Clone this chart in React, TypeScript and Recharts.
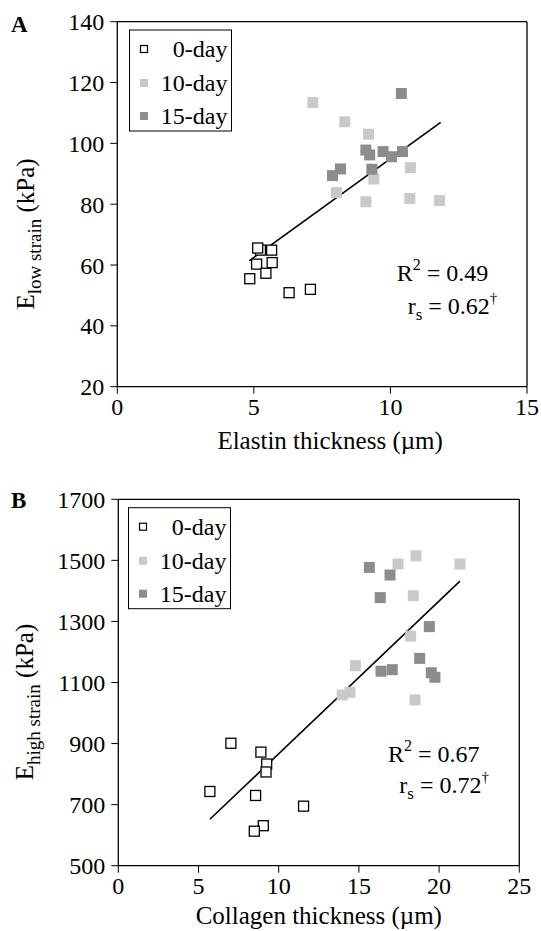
import React from 'react';
import { ScatterChart, Scatter, XAxis, YAxis, ReferenceLine } from 'recharts';

// ---------- Panel A data (Elastin thickness vs E low strain) ----------
const a0Day = [
  { x: 5.24, y: 64.9 }, { x: 5.14, y: 65.6 }, { x: 5.65, y: 64.9 }, { x: 5.10, y: 60.3 },
  { x: 5.67, y: 60.8 }, { x: 5.44, y: 57.3 }, { x: 4.85, y: 55.5 }, { x: 6.29, y: 50.9 },
  { x: 7.07, y: 52.0 },
];
const a10Day = [
  { x: 7.16, y: 113.4 }, { x: 8.33, y: 107.1 }, { x: 9.20, y: 103.0 }, { x: 10.73, y: 92.0 },
  { x: 9.39, y: 88.3 }, { x: 8.02, y: 83.8 }, { x: 9.10, y: 80.8 }, { x: 10.71, y: 81.9 },
  { x: 11.80, y: 81.2 },
];
const a15Day = [
  { x: 10.40, y: 116.4 }, { x: 9.10, y: 97.8 }, { x: 9.24, y: 96.2 }, { x: 9.73, y: 97.3 },
  { x: 10.04, y: 95.6 }, { x: 10.44, y: 97.3 }, { x: 9.32, y: 91.5 }, { x: 8.17, y: 91.6 },
  { x: 7.88, y: 89.4 },
];
const aFit = [{ x: 4.83, y: 61.4 }, { x: 11.84, y: 106.9 }];
const aXTicks = [0, 5, 10, 15];
const aYTicks = [20, 40, 60, 80, 100, 120, 140];

// ---------- Panel B data (Collagen thickness vs E high strain) ----------
const b0Day = [
  { x: 7.02, y: 901 }, { x: 8.89, y: 872 }, { x: 9.25, y: 833 }, { x: 9.21, y: 807 },
  { x: 5.71, y: 743 }, { x: 8.56, y: 730 }, { x: 11.55, y: 695 }, { x: 9.04, y: 631 },
  { x: 8.48, y: 613 },
];
const b10Day = [
  { x: 18.56, y: 1515 }, { x: 17.44, y: 1488 }, { x: 21.30, y: 1488 }, { x: 18.39, y: 1384 },
  { x: 18.23, y: 1252 }, { x: 14.78, y: 1155 }, { x: 14.44, y: 1068 }, { x: 13.96, y: 1059 },
  { x: 18.50, y: 1043 },
];
const b15Day = [
  { x: 15.65, y: 1477 }, { x: 16.94, y: 1452 }, { x: 16.33, y: 1378 }, { x: 19.39, y: 1283 },
  { x: 18.79, y: 1179 }, { x: 16.38, y: 1137 }, { x: 17.08, y: 1142 }, { x: 19.51, y: 1132 },
  { x: 19.74, y: 1117 },
];
const bFit = [{ x: 5.71, y: 652 }, { x: 21.30, y: 1432 }];
const bXTicks = [0, 5, 10, 15, 20, 25];
const bYTicks = [500, 700, 900, 1100, 1300, 1500, 1700];

const seriesNames = ['0-day', '10-day', '15-day'];

const FONT = '"Liberation Serif", "Times New Roman", serif';
const LIGHT = '#c9c9c9';
const DARK = '#8c8c8c';

const openSquare = (p: any) => (
  <rect x={p.cx - 5} y={p.cy - 5} width={10} height={10} fill="#fff" stroke="#000" strokeWidth={1.3} />
);
const lightSquare = (p: any) => (
  <rect x={p.cx - 5.5} y={p.cy - 5.5} width={11} height={11} fill={LIGHT} stroke="none" />
);
const darkSquare = (p: any) => (
  <rect x={p.cx - 5.5} y={p.cy - 5.5} width={11} height={11} fill={DARK} stroke="none" />
);

const tickStyle = { fontSize: 24, fill: '#000', fontFamily: FONT };

function LegendBox({ x, y }: { x: number; y: number }) {
  const rows = [0, 34, 67];
  return (
    <g>
      <rect x={x} y={y} width={102} height={101} fill="#fff" stroke="#000" strokeWidth={1} />
      {seriesNames.map((n, i) => {
        const cy = y + 19 + rows[i];
        return (
          <g key={n}>
            {i === 0 ? (
              <rect x={x + 11} y={cy - 3.5} width={7} height={7} fill="#fff" stroke="#000" strokeWidth={1.2} />
            ) : (
              <rect x={x + 10.5} y={cy - 4} width={8} height={8} fill={i === 1 ? LIGHT : DARK} />
            )}
            <text x={x + 98} y={cy + 8} textAnchor="end" fontSize={24} fontFamily={FONT} fill="#000">
              {n}
            </text>
          </g>
        );
      })}
    </g>
  );
}

function Stats({ x1, y1, x2, y2, r2, rs }: any) {
  return (
    <g fontFamily={FONT} fill="#000">
      <text x={x1} y={y1} fontSize={24}>
        R<tspan dy={-11} fontSize={16}>2</tspan>
        <tspan dy={11} fontSize={24}>{` = ${r2}`}</tspan>
      </text>
      <text x={x2} y={y2} fontSize={24}>
        r<tspan dy={6} fontSize={17}>s</tspan>
        <tspan dy={-6} fontSize={24}>{` = ${rs}`}</tspan>
        <tspan dy={-11} fontSize={15}>†</tspan>
      </text>
    </g>
  );
}

function YTitle({ cx, cy, sub }: { cx: number; cy: number; sub: string }) {
  return (
    <text
      x={cx}
      y={cy}
      transform={`rotate(-90 ${cx} ${cy})`}
      textAnchor="middle"
      fontFamily={FONT}
      fontSize={25}
      fill="#000"
    >
      E<tspan dy={7} fontSize={19}>{sub}</tspan>
      <tspan dy={-7} fontSize={25}> (kPa)</tspan>
    </text>
  );
}

const xTitle = (text: string, dx: number, dy: number) => (props: any) => {
  const vb = props.viewBox || {};
  return (
    <text
      x={vb.x + vb.width / 2 + dx}
      y={vb.y + dy}
      textAnchor="middle"
      fontFamily={FONT}
      fontSize={25}
      fill="#000"
    >
      {text}
    </text>
  );
};

export default function App() {
  return (
    <div style={{ position: 'absolute', left: 0, top: 0, width: 541, height: 931, background: '#fff' }}>
      <div style={{ position: 'absolute', left: 0, top: 0 }}>
        <ScatterChart width={541} height={460} margin={{ top: 21.7, right: 14, bottom: 0, left: 0 }}>
          <XAxis
            type="number"
            dataKey="x"
            domain={[0, 15]}
            ticks={aXTicks}
            height={73.3}
            tick={tickStyle}
            tickSize={7}
            tickMargin={4}
            axisLine={{ stroke: '#000', strokeWidth: 1.3 }}
            tickLine={{ stroke: '#000', strokeWidth: 1 }}
            label={{ content: xTitle('Elastin thickness (µm)', 8, 62) } as any}
          />
          <YAxis
            type="number"
            dataKey="y"
            domain={[20, 140]}
            ticks={aYTicks}
            width={117.3}
            tick={tickStyle}
            tickSize={7}
            tickMargin={6}
            axisLine={{ stroke: '#000', strokeWidth: 1.3 }}
            tickLine={{ stroke: '#000', strokeWidth: 1 }}
            allowDataOverflow
          />
          <ReferenceLine y={140} stroke="#000" strokeWidth={1.3} />
          <ReferenceLine x={15} stroke="#000" strokeWidth={1.3} />
          <ReferenceLine segment={aFit as any} stroke="#000" strokeWidth={1.6} />
          <Scatter name="0-day" data={a0Day} shape={openSquare} isAnimationActive={false} />
          <Scatter name="10-day" data={a10Day} shape={lightSquare} isAnimationActive={false} />
          <Scatter name="15-day" data={a15Day} shape={darkSquare} isAnimationActive={false} />
          <LegendBox x={129.5} y={30} />
          <Stats x1={396.7} y1={280.7} x2={407.7} y2={314} r2="0.49" rs="0.62" />
          <YTitle cx={33.5} cy={234} sub="low strain" />
          <text x={11} y={32} fontFamily={FONT} fontWeight="bold" fontSize={23} fill="#000">A</text>
        </ScatterChart>
      </div>
      <div style={{ position: 'absolute', left: 0, top: 465 }}>
        <ScatterChart width={541} height={466} margin={{ top: 34.3, right: 21.7, bottom: 0, left: 0 }}>
          <XAxis
            type="number"
            dataKey="x"
            domain={[0, 25]}
            ticks={bXTicks}
            height={65.3}
            tick={tickStyle}
            tickSize={7}
            tickMargin={4}
            axisLine={{ stroke: '#000', strokeWidth: 1.3 }}
            tickLine={{ stroke: '#000', strokeWidth: 1 }}
            label={{ content: xTitle('Collagen thickness (µm)', 0, 58) } as any}
          />
          <YAxis
            type="number"
            dataKey="y"
            domain={[500, 1700]}
            ticks={bYTicks}
            width={118.3}
            tick={tickStyle}
            tickSize={7}
            tickMargin={6}
            axisLine={{ stroke: '#000', strokeWidth: 1.3 }}
            tickLine={{ stroke: '#000', strokeWidth: 1 }}
            allowDataOverflow
          />
          <ReferenceLine y={1700} stroke="#000" strokeWidth={1.3} />
          <ReferenceLine x={25} stroke="#000" strokeWidth={1.3} />
          <ReferenceLine segment={bFit as any} stroke="#000" strokeWidth={1.6} />
          <Scatter name="0-day" data={b0Day} shape={openSquare} isAnimationActive={false} />
          <Scatter name="10-day" data={b10Day} shape={lightSquare} isAnimationActive={false} />
          <Scatter name="15-day" data={b15Day} shape={darkSquare} isAnimationActive={false} />
          <LegendBox x={128.5} y={42.7} />
          <Stats x1={388} y1={296.7} x2={399.3} y2={328.3} r2="0.67" rs="0.72" />
          <YTitle cx={33} cy={237} sub="high strain" />
          <text x={11} y={43} fontFamily={FONT} fontWeight="bold" fontSize={23} fill="#000">B</text>
        </ScatterChart>
      </div>
    </div>
  );
}
